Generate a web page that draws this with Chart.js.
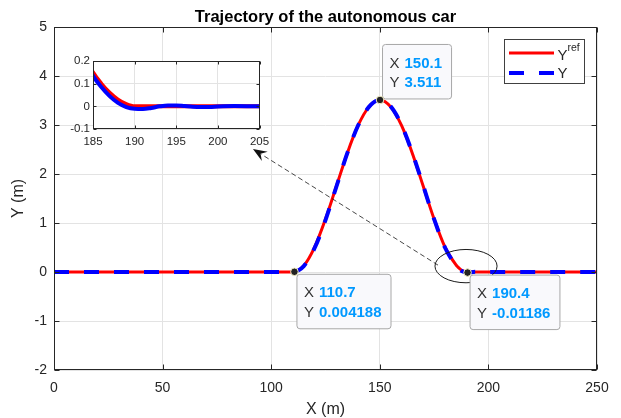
<!DOCTYPE html>
<html>
<head>
<meta charset="utf-8">
<script src="https://cdn.jsdelivr.net/npm/chart.js@4/dist/chart.umd.min.js"></script>
<style>
  html, body { margin: 0; padding: 0; background: #fff; }
  #wrap { position: relative; width: 621px; height: 418px; }
  #main { position: absolute; left: 0; top: 0; }
  #inset { position: absolute; left: 60px; top: 50px; }
</style>
</head>
<body>
<div id="wrap">
  <canvas id="main" width="621" height="418"></canvas>
  <canvas id="inset" width="220" height="100"></canvas>
</div>
<script>
/* ===== Data ===== */
const xPos = [0, 50, 100, 105, 110, 115, 120, 125, 130, 135, 140, 145, 150, 155, 160, 165, 170, 175, 180,
              185, 186, 187, 188, 189, 190, 191, 192, 193, 194, 195, 196, 197, 198, 199, 200, 202, 205, 210, 250];
const yRef = [0, 0, 0, 0, 0, 0.13, 0.51, 1.08, 1.75, 2.42, 2.99, 3.37, 3.51, 3.37, 2.99, 2.42, 1.75, 1.08, 0.51,
              0.15, 0.10, 0.06, 0.03, 0.01, 0, 0, 0, 0, 0, 0, 0, 0, 0, 0, 0, 0, 0, 0, 0];
const yOut = [0, 0, 0, 0, 0.004, 0.12, 0.49, 1.06, 1.74, 2.42, 2.99, 3.37, 3.51, 3.38, 3.00, 2.43, 1.76, 1.08, 0.50,
              0.135, 0.085, 0.045, 0.015, -0.003, -0.011, -0.012, -0.007, 0.000, 0.004, 0.004, 0.001, -0.002, -0.003,
              -0.003, -0.001, 0.001, 0, 0, 0];

const xTicks = [0, 50, 100, 150, 200, 250];
const yTicks = [-2, -1, 0, 1, 2, 3, 4, 5];
const insetXTicks = [185, 190, 195, 200, 205];
const insetYTicks = [-0.1, 0, 0.1, 0.2];

// data tips (value pairs shown in the boxes)
const tipX = [150.1, 110.7, 190.4];
const tipY = [3.511, 0.004188, -0.01186];
const tipSide = ['up', 'down', 'down'];

// annotation ellipse + arrow, in data units
const ellipse = { x: 189.7, y: 0.12, rx: 14.3, ry: 0.34 };
const arrow = { x1: 176.8, y1: 0.14, x2: 91.6, y2: 2.51 };

const FONT = "'Liberation Sans', Arial, Helvetica, sans-serif";
const AXIS = '#262626';
const GRID = '#e3e3e3';
const RED = '#ff0000';
const BLUE = '#0000ff';

const toPoints = ys => xPos.map((x, i) => ({ x: x, y: ys[i] }));
const fixedTicks = vals => scale => { scale.ticks = vals.map(v => ({ value: v })); };

// box + inward ticks, MATLAB style
function boxTicks(len) {
    return {
        id: 'boxTicks',
        afterDraw(chart) {
            const { ctx, chartArea: a, scales } = chart;
            ctx.save();
            ctx.strokeStyle = AXIS;
            ctx.lineWidth = 1;
            const L = Math.round(a.left) + 0.5, R = Math.round(a.right) - 0.5;
            const T = Math.round(a.top) + 0.5, B = Math.round(a.bottom) - 0.5;
            ctx.strokeRect(L, T, R - L, B - T);
            ctx.beginPath();
            scales.x.ticks.forEach(t => {
                const px = Math.round(scales.x.getPixelForValue(t.value)) + 0.5;
                ctx.moveTo(px, B); ctx.lineTo(px, B - len);
                ctx.moveTo(px, T); ctx.lineTo(px, T + len);
            });
            scales.y.ticks.forEach(t => {
                const py = Math.round(scales.y.getPixelForValue(t.value)) + 0.5;
                ctx.moveTo(L, py); ctx.lineTo(L + len, py);
                ctx.moveTo(R, py); ctx.lineTo(R - len, py);
            });
            ctx.stroke();
            ctx.restore();
        }
    };
}

function roundRect(ctx, x, y, w, h, r) {
    ctx.beginPath();
    ctx.moveTo(x + r, y);
    ctx.arcTo(x + w, y, x + w, y + h, r);
    ctx.arcTo(x + w, y + h, x, y + h, r);
    ctx.arcTo(x, y + h, x, y, r);
    ctx.arcTo(x, y, x + w, y, r);
    ctx.closePath();
}

const annotations = {
    id: 'annotations',
    afterDraw(chart) {
        const { ctx, scales: { x: sx, y: sy } } = chart;
        ctx.save();

        // ellipse
        const ex = sx.getPixelForValue(ellipse.x), ey = sy.getPixelForValue(ellipse.y);
        const erx = sx.getPixelForValue(ellipse.x + ellipse.rx) - ex;
        const ery = ey - sy.getPixelForValue(ellipse.y + ellipse.ry);
        ctx.strokeStyle = '#1a1a1a';
        ctx.lineWidth = 1;
        ctx.beginPath();
        ctx.ellipse(ex, ey, erx, ery, 0, 0, Math.PI * 2);
        ctx.stroke();

        // dashed arrow
        const ax1 = sx.getPixelForValue(arrow.x1), ay1 = sy.getPixelForValue(arrow.y1);
        const ax2 = sx.getPixelForValue(arrow.x2), ay2 = sy.getPixelForValue(arrow.y2);
        const len = Math.hypot(ax2 - ax1, ay2 - ay1);
        const ux = (ax2 - ax1) / len, uy = (ay2 - ay1) / len;
        const nx = -uy, ny = ux;
        const HL = 14, HW = 5.5;
        ctx.setLineDash([5, 3]);
        ctx.lineWidth = 0.8;
        ctx.beginPath();
        ctx.moveTo(ax1, ay1);
        ctx.lineTo(ax2 - ux * (HL - 4), ay2 - uy * (HL - 4));
        ctx.stroke();
        ctx.setLineDash([]);
        ctx.fillStyle = '#111';
        ctx.beginPath();
        ctx.moveTo(ax2, ay2);
        ctx.lineTo(ax2 - ux * HL + nx * HW, ay2 - uy * HL + ny * HW);
        ctx.lineTo(ax2 - ux * (HL - 5), ay2 - uy * (HL - 5));
        ctx.lineTo(ax2 - ux * HL - nx * HW, ay2 - uy * HL - ny * HW);
        ctx.closePath();
        ctx.fill();

        // data tips
        tipX.forEach((tx, i) => {
            const px = sx.getPixelForValue(tx), py = sy.getPixelForValue(tipY[i]);
            const xs = String(tx), ys = String(tipY[i]);
            ctx.font = 'bold 15px ' + FONT;
            const vw = Math.max(ctx.measureText(xs).width, ctx.measureText(ys).width);
            const w = 22.5 + vw + 9, h = 54.5;
            const left = px + 2;
            const top = tipSide[i] === 'up' ? py - 1.5 - h : py + 2;
            roundRect(ctx, left + 0.5, top + 0.5, w, h, 3);
            ctx.fillStyle = '#f9f9fc';
            ctx.fill();
            ctx.strokeStyle = '#a8a8a8';
            ctx.lineWidth = 1;
            ctx.stroke();
            ctx.textBaseline = 'middle';
            ctx.textAlign = 'left';
            ctx.font = '15px ' + FONT;
            ctx.fillStyle = '#333';
            ctx.fillText('X', left + 7.5, top + 19.5);
            ctx.fillText('Y', left + 7.5, top + 39);
            ctx.font = 'bold 15px ' + FONT;
            ctx.fillStyle = '#0099ff';
            ctx.fillText(xs, left + 22.5, top + 19.5);
            ctx.fillText(ys, left + 22.5, top + 39);

            ctx.beginPath();
            ctx.arc(px, py, 3.8, 0, Math.PI * 2);
            ctx.fillStyle = '#222';
            ctx.fill();
            ctx.strokeStyle = '#f3eec4';
            ctx.lineWidth = 1;
            ctx.stroke();
        });

        // legend
        const lx = 504.5, ly = 39.5, lw = 80, lh = 44;
        ctx.fillStyle = '#fff';
        ctx.fillRect(lx, ly, lw, lh);
        ctx.strokeStyle = '#404040';
        ctx.lineWidth = 1;
        ctx.strokeRect(lx, ly, lw, lh);
        const ds = chart.data.datasets;
        ctx.lineWidth = ds[1].borderWidth;
        ctx.strokeStyle = ds[1].borderColor;
        ctx.beginPath(); ctx.moveTo(509, 53); ctx.lineTo(554, 53); ctx.stroke();
        ctx.lineWidth = ds[0].borderWidth;
        ctx.strokeStyle = ds[0].borderColor;
        ctx.beginPath();
        ctx.moveTo(509, 73); ctx.lineTo(524, 73);
        ctx.moveTo(539, 73); ctx.lineTo(554, 73);
        ctx.stroke();
        ctx.fillStyle = AXIS;
        ctx.textBaseline = 'middle';
        ctx.font = '15px ' + FONT;
        ctx.fillText('Y', 557.5, 56);
        ctx.fillText('Y', 557.5, 74);
        ctx.font = '10.5px ' + FONT;
        ctx.fillText('ref', 567.5, 48.5);

        ctx.restore();
    }
};

new Chart(document.getElementById('main'), {
    type: 'line',
    data: {
        datasets: [
            {
                label: 'Y',
                data: toPoints(yOut),
                borderColor: BLUE,
                borderWidth: 4,
                borderDash: [15, 15],
                borderCapStyle: 'butt',
                pointRadius: 0,
                cubicInterpolationMode: 'monotone',
                order: 1
            },
            {
                label: 'Yref',
                data: toPoints(yRef),
                borderColor: RED,
                borderWidth: 3,
                pointRadius: 0,
                cubicInterpolationMode: 'monotone',
                order: 2
            }
        ]
    },
    options: {
        responsive: false,
        animation: false,
        layout: { padding: { left: 0, right: 24, top: 0, bottom: 0 } },
        plugins: {
            legend: { display: false },
            tooltip: { enabled: false },
            title: {
                display: true,
                text: 'Trajectory of the autonomous car',
                fullSize: false,
                color: '#000',
                font: { family: FONT, size: 16.5, weight: 'bold', lineHeight: '20px' },
                padding: { top: 7, bottom: 0 }
            }
        },
        scales: {
            x: {
                type: 'linear',
                min: 0, max: 250,
                afterBuildTicks: fixedTicks(xTicks),
                afterFit: s => { s.height = 48; },
                grid: { color: GRID, drawTicks: false },
                border: { display: false },
                ticks: { color: AXIS, font: { family: FONT, size: 14 }, padding: 9.5, maxRotation: 0, callback: v => String(v) },
                title: { display: true, text: 'X (m)', color: AXIS, font: { family: FONT, size: 16, lineHeight: '16px' }, padding: { top: 0, bottom: 0 } }
            },
            y: {
                type: 'linear',
                min: -2, max: 5,
                afterBuildTicks: fixedTicks(yTicks),
                afterFit: s => { s.width = 54; },
                grid: { color: GRID, drawTicks: false },
                border: { display: false },
                ticks: { color: AXIS, font: { family: FONT, size: 14 }, padding: 7, callback: v => String(v) },
                title: { display: true, text: 'Y (m)', color: AXIS, font: { family: FONT, size: 16 }, padding: { top: 9, bottom: 0 } }
            }
        }
    },
    plugins: [boxTicks(5), annotations]
});

// inset zoom 185..205
const whiteArea = {
    id: 'whiteArea',
    beforeDraw(chart) {
        const { ctx, chartArea: a } = chart;
        ctx.save();
        ctx.fillStyle = '#fff';
        ctx.fillRect(a.left, a.top, a.right - a.left, a.bottom - a.top);
        ctx.restore();
    }
};

new Chart(document.getElementById('inset'), {
    type: 'line',
    data: {
        datasets: [
            {
                label: 'Y',
                data: toPoints(yOut),
                borderColor: BLUE,
                borderWidth: 4,
                pointRadius: 0,
                cubicInterpolationMode: 'monotone',
                order: 1
            },
            {
                label: 'Yref',
                data: toPoints(yRef),
                borderColor: RED,
                borderWidth: 4,
                pointRadius: 0,
                cubicInterpolationMode: 'monotone',
                order: 2
            }
        ]
    },
    options: {
        responsive: false,
        animation: false,
        layout: { padding: { left: 0, right: 20.5, top: 11, bottom: 0 } },
        plugins: { legend: { display: false }, tooltip: { enabled: false } },
        scales: {
            x: {
                type: 'linear',
                min: 185, max: 205,
                afterBuildTicks: fixedTicks(insetXTicks),
                afterFit: s => { s.height = 21; },
                grid: { color: GRID, drawTicks: false },
                border: { display: false },
                ticks: { color: AXIS, font: { family: FONT, size: 11.5 }, padding: 5.5, maxRotation: 0, callback: v => String(v) }
            },
            y: {
                type: 'linear',
                min: -0.1, max: 0.2,
                afterBuildTicks: fixedTicks(insetYTicks),
                afterFit: s => { s.width = 33; },
                grid: { color: GRID, drawTicks: false },
                border: { display: false },
                ticks: { color: AXIS, font: { family: FONT, size: 11.5 }, padding: 3, callback: v => String(v) }
            }
        }
    },
    plugins: [whiteArea, boxTicks(3)]
});
</script>
</body>
</html>
